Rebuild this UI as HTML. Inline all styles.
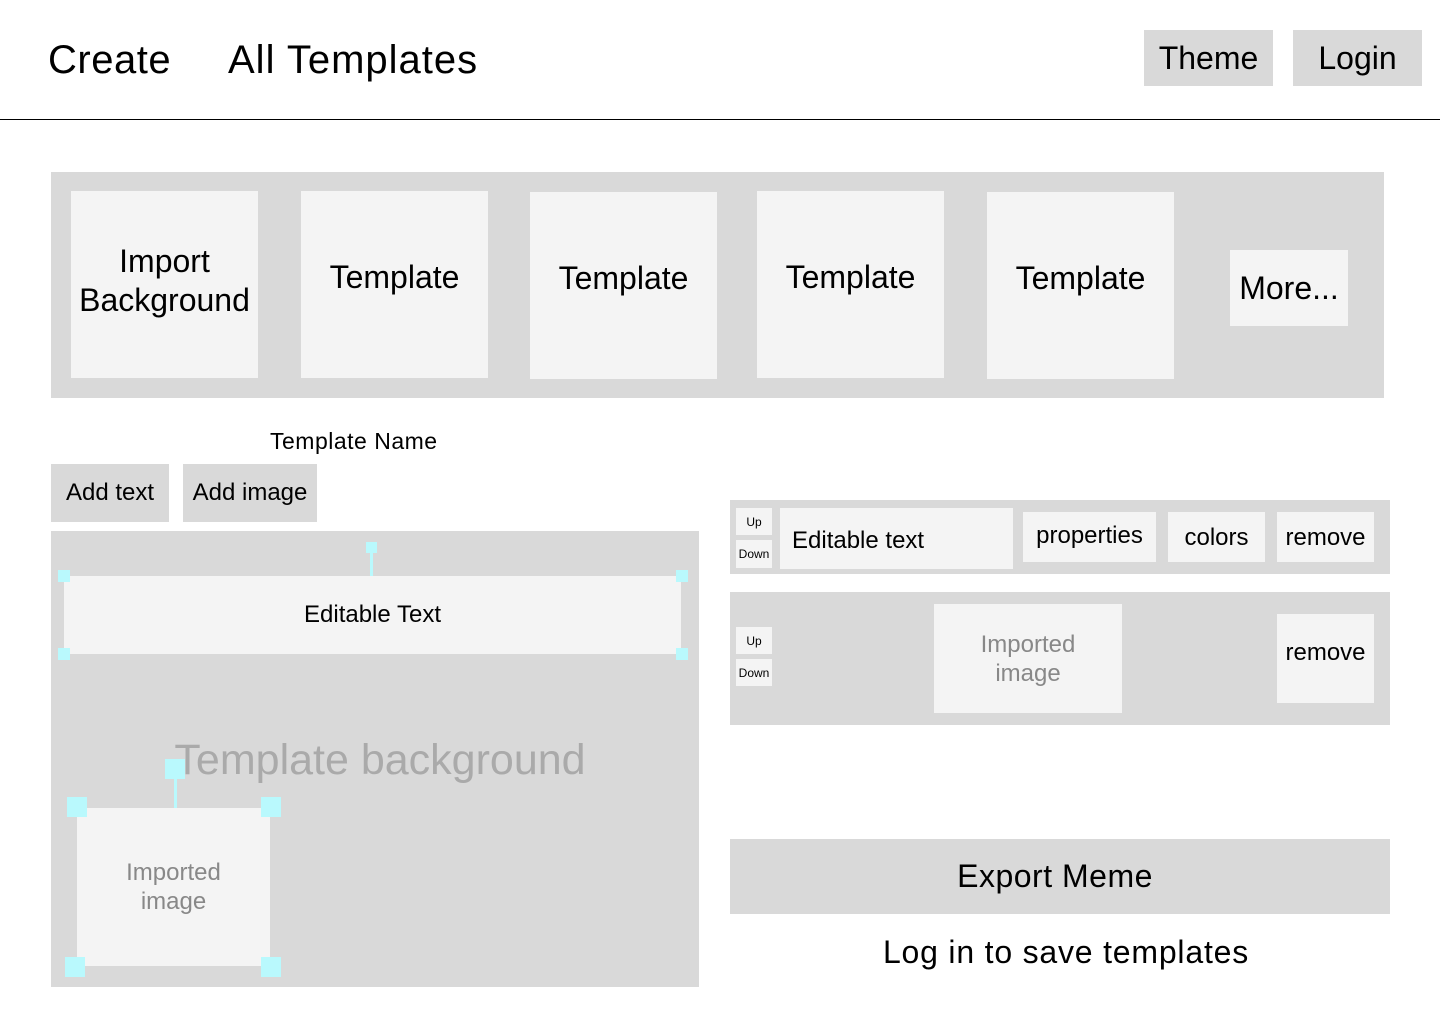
<!DOCTYPE html>
<html><head><meta charset="utf-8"><style>
*{margin:0;padding:0;box-sizing:border-box}
body{width:1440px;height:1024px;background:#fff;position:relative;font-family:"Liberation Sans",sans-serif;color:#000;overflow:hidden}
.a{position:absolute;display:flex;align-items:center;justify-content:center;text-align:center}
.g{background:#d9d9d9}.l{background:#f4f4f4}
.h{position:absolute;background:#b9f9fd}
</style></head><body>
<div class="a" style="left:48px;top:32px;height:56px;font-size:40px;justify-content:flex-start;letter-spacing:0.5px">Create</div>
<div class="a" style="left:228px;top:32px;height:56px;font-size:40px;justify-content:flex-start;letter-spacing:1px">All Templates</div>
<div class="a g" style="left:1144px;top:30px;width:129px;height:56px;font-size:32px">Theme</div>
<div class="a g" style="left:1293px;top:30px;width:129px;height:56px;font-size:32px">Login</div>
<div style="position:absolute;left:0;top:119px;width:1440px;height:1px;background:#000"></div>

<div class="g" style="position:absolute;left:51px;top:172px;width:1333px;height:226px"></div>
<div class="a l" style="left:71px;top:191px;width:187px;height:187px;font-size:32px;line-height:39px;padding-bottom:8px">Import<br>Background</div>
<div class="a l" style="left:301px;top:191px;width:187px;height:187px;font-size:32px;padding-bottom:14px">Template</div>
<div class="a l" style="left:530px;top:192px;width:187px;height:187px;font-size:32px;padding-bottom:14px">Template</div>
<div class="a l" style="left:757px;top:191px;width:187px;height:187px;font-size:32px;padding-bottom:14px">Template</div>
<div class="a l" style="left:987px;top:192px;width:187px;height:187px;font-size:32px;padding-bottom:14px">Template</div>
<div class="a l" style="left:1230px;top:250px;width:118px;height:76px;font-size:32px">More...</div>

<div class="a" style="left:270px;top:426px;height:30px;font-size:23px;justify-content:flex-start;letter-spacing:0.5px">Template Name</div>
<div class="a g" style="left:51px;top:464px;width:118px;height:58px;font-size:24px">Add text</div>
<div class="a g" style="left:183px;top:464px;width:134px;height:58px;font-size:24px">Add image</div>

<div class="g" style="position:absolute;left:51px;top:531px;width:648px;height:456px"></div>
<div class="a l" style="left:64px;top:576px;width:617px;height:78px;font-size:24px">Editable Text</div>
<div class="h" style="left:366px;top:542px;width:11px;height:11px"></div>
<div class="h" style="left:370px;top:553px;width:3px;height:23px"></div>
<div class="h" style="left:58px;top:570px;width:12px;height:12px"></div>
<div class="h" style="left:676px;top:570px;width:12px;height:12px"></div>
<div class="h" style="left:58px;top:648px;width:12px;height:12px"></div>
<div class="h" style="left:676px;top:648px;width:12px;height:12px"></div>
<div class="a" style="left:120px;top:735px;width:520px;height:50px;font-size:43px;color:#aaa">Template background</div>
<div class="a l" style="left:77px;top:808px;width:193px;height:158px;font-size:24px;line-height:29px;color:#888">Imported<br>image</div>
<div class="h" style="left:165px;top:759px;width:20px;height:20px"></div>
<div class="h" style="left:174px;top:779px;width:3px;height:29px"></div>
<div class="h" style="left:67px;top:797px;width:20px;height:20px"></div>
<div class="h" style="left:261px;top:797px;width:20px;height:20px"></div>
<div class="h" style="left:65px;top:957px;width:20px;height:20px"></div>
<div class="h" style="left:261px;top:957px;width:20px;height:20px"></div>

<div class="g" style="position:absolute;left:730px;top:500px;width:660px;height:74px"></div>
<div class="a l" style="left:736px;top:508px;width:36px;height:27px;font-size:12px">Up</div>
<div class="a l" style="left:736px;top:540px;width:36px;height:28px;font-size:12px">Down</div>
<div class="a l" style="left:780px;top:508px;width:233px;height:61px;font-size:24px;justify-content:flex-start;padding-left:12px;padding-top:4px">Editable text</div>
<div class="a l" style="left:1023px;top:512px;width:133px;height:50px;font-size:24px;padding-bottom:2px">properties</div>
<div class="a l" style="left:1168px;top:512px;width:97px;height:50px;font-size:24px;padding-top:2px">colors</div>
<div class="a l" style="left:1277px;top:512px;width:97px;height:50px;font-size:24px;padding-top:2px">remove</div>

<div class="g" style="position:absolute;left:730px;top:592px;width:660px;height:133px"></div>
<div class="a l" style="left:736px;top:627px;width:36px;height:27px;font-size:12px">Up</div>
<div class="a l" style="left:736px;top:659px;width:36px;height:27px;font-size:12px">Down</div>
<div class="a l" style="left:934px;top:604px;width:188px;height:109px;font-size:24px;line-height:29px;color:#888">Imported<br>image</div>
<div class="a l" style="left:1277px;top:614px;width:97px;height:89px;font-size:24px;padding-bottom:12px">remove</div>

<div class="a g" style="left:730px;top:839px;width:660px;height:75px;font-size:32px;letter-spacing:0.5px;padding-right:10px">Export Meme</div>
<div class="a" style="left:730px;top:930px;width:672px;height:44px;font-size:32px;letter-spacing:0.8px">Log in to save templates</div>
</body></html>
